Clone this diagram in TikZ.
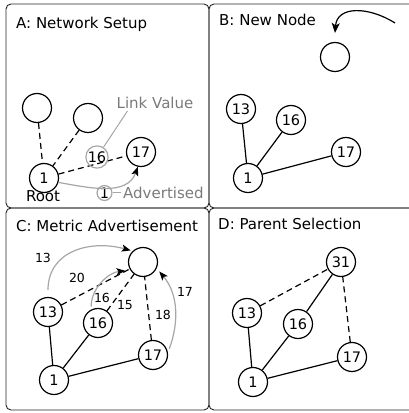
\documentclass[tikz,border=0pt]{standalone}
\usepackage{fontspec}
\setmainfont{DejaVu Sans}
\usetikzlibrary{arrows.meta}
\colorlet{hintline}{black!35}
\colorlet{hinttext}{black!52}
\tikzset{
  panel/.style={draw=black!85, line width=.9pt, rounded corners=5pt},
  heading/.style={anchor=base west, inner sep=0pt, font=\fontsize{15}{18}\selectfont},
  mote/.style={draw, circle, line width=1.2pt, minimum size=29pt, inner sep=0pt, font=\fontsize{14.5}{17}\selectfont},
  tag/.style={draw=hintline, circle, line width=1.2pt, inner sep=.3pt, font=\fontsize{14.5}{17}\selectfont},
  hint/.style={text=hinttext, inner sep=2pt, font=\fontsize{15}{18}\selectfont},
  metric/.style={inner sep=0pt, font=\fontsize{12.5}{15}\selectfont},
  link/.style={line width=1.2pt},
  probe/.style={line width=1.2pt, dash pattern=on 6pt off 4pt},
  pointer/.style={draw=hintline, line width=1pt},
  adv/.style={draw=hintline, line width=1.2pt, -{Stealth[black,length=9pt,width=7pt,inset=2pt]}},
}
\begin{document}
\begin{tikzpicture}[x=1pt,y=1pt]
    \useasboundingbox (0,0) rectangle (409,413);

    \draw[panel] (6,409) rectangle (209,205);
    \draw[panel] (209,409) rectangle (416,205);
    \draw[panel] (6,205) rectangle (209,3);
    \draw[panel] (209,205) rectangle (416,3);

    \node[heading] (titleA) at (16,384) {A: Network Setup};
    \node[heading] (titleB) at (219,387) {B: New Node};
    \node[heading] (titleC) at (16,181) {C: Metric Advertisement};
    \node[heading] (titleD) at (218,183) {D: Parent Selection};

    \begin{scope}
    \node[mote] (a1) at (44,235) {1};
    \node[mote] (aUp) at (37,305) {};
    \node[mote] (aMid) at (88,295) {};
    \node[mote] (a17) at (141,261) {17};
    \node[anchor=base, inner sep=0pt, font=\fontsize{15}{18}\selectfont] (root) at (43,211) {Root};
    \draw[probe] (aUp) -- (a1);
    \draw[probe] (aMid) -- (a1);
    \draw[probe] (a1) -- (a17);
    \node[tag] (lnk16) at (97,256) {16};
    \node[hint] (lnkval) at (155,310) {Link Value};
    \draw[pointer] (lnk16) -- ([xshift=13pt]lnkval.south west);
    \node[tag] (adv1) at (104.5,220) {1};
    \node[hint, anchor=west] (advtxt) at (121,220) {Advertised};
    \draw[pointer] (adv1) -- (advtxt);
    \draw[adv] (a1.-17) to[out=-10,in=-110] (a17.258);
    \end{scope}

    \begin{scope}
    \node[mote] (bNew) at (335,356) {};
    \node[mote] (b13) at (241,304) {13};
    \node[mote] (b16) at (291,293) {16};
    \node[mote] (b17) at (346,261) {17};
    \node[mote] (b1) at (248,235) {1};
    \draw[link] (b1) -- (b13);
    \draw[link] (b1) -- (b16);
    \draw[link] (b1) -- (b17);
    \coordinate (bIn) at (395,390);
    \coordinate (bDrop) at (335,380);
    \draw[line width=1.2pt,-{Stealth[length=10pt,width=8pt,inset=2.5pt]}]
    (bIn) .. controls (368,407) and (337,407) .. (bDrop);
    \end{scope}

    \begin{scope}
    \node[mote] (cTop) at (143,151) {};
    \node[mote] (c13) at (48,101) {13};
    \node[mote] (c16) at (98,90) {16};
    \node[mote] (c17) at (153,58) {17};
    \node[mote] (c1) at (54,33) {1};
    \draw[link] (c1) -- (c13);
    \draw[link] (c1) -- (c16);
    \draw[link] (c1) -- (c17);
    \draw[probe] (c13) -- (cTop);
    \draw[probe] (c16) -- (cTop);
    \draw[probe] (c17) -- (cTop);
    \node[metric] (m20) at (77,135) {20};
    \node[metric] (m15) at (125,108) {15};
    \node[metric] (m18) at (163,98) {18};
    \draw[adv, shorten <=7pt, shorten >=2pt] (c13.north) to[out=90,in=165,looseness=1.2] (cTop.133);
    \draw[adv, shorten <=3pt, shorten >=5pt] (c16.117) to[out=90,in=185] (cTop.214);
    \draw[adv, shorten <=4pt, shorten >=4pt] (c17.9) to[out=70,in=-50] (cTop.-25);
    \node[metric] (m13) at (43,155) {13};
    \node[metric] (m16) at (102,115) {16};
    \node[metric] (m17) at (185,121) {17};
    \end{scope}

    \begin{scope}
    \node[mote] (d31) at (341,151) {31};
    \node[mote] (d13) at (247,100) {13};
    \node[mote] (d16) at (298,89) {16};
    \node[mote] (d17) at (352,56) {17};
    \node[mote] (d1) at (253,31) {1};
    \draw[link] (d1) -- (d13);
    \draw[link] (d1) -- (d16);
    \draw[link] (d1) -- (d17);
    \draw[link] (d16) -- (d31);
    \draw[probe] (d13) -- (d31);
    \draw[probe] (d17) -- (d31);
    \end{scope}
\end{tikzpicture}
\end{document}
